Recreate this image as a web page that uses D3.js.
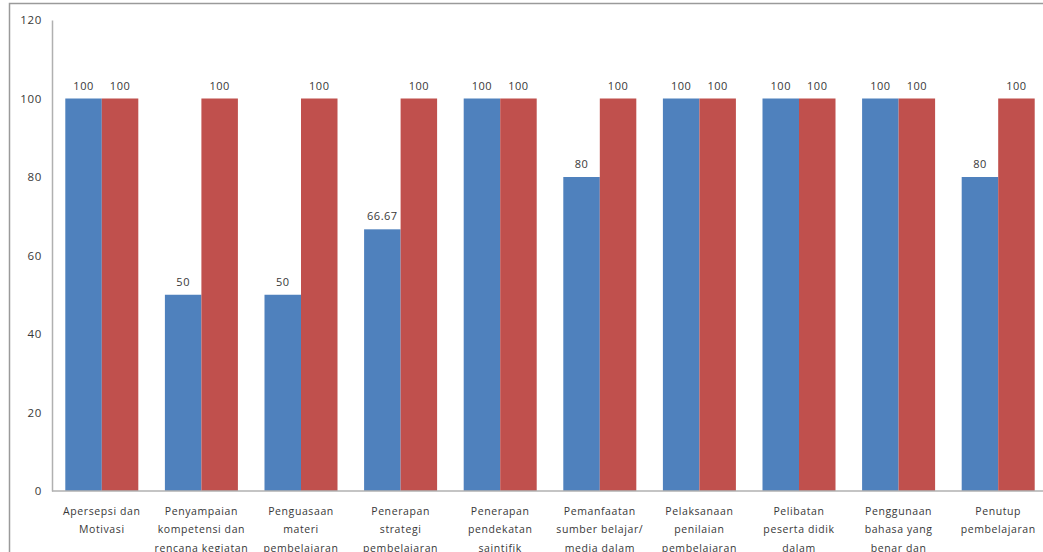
<!DOCTYPE html>
<html>
<head>
<meta charset="utf-8">
<script src="https://cdn.jsdelivr.net/npm/d3@7"></script>
<style>
  html, body { margin: 0; padding: 0; background: #fff; overflow: hidden; }
  svg { display: block; }
  text { font-family: "Open Sans", "Liberation Sans", sans-serif; fill: #383838; }
</style>
</head>
<body>
<svg id="chart" width="1043" height="552"></svg>
<script>
const categories = [
  ["Apersepsi dan", "Motivasi"],
  ["Penyampaian", "kompetensi dan", "rencana kegiatan"],
  ["Penguasaan", "materi", "pembelajaran"],
  ["Penerapan", "strategi", "pembelajaran"],
  ["Penerapan", "pendekatan", "saintifik"],
  ["Pemanfaatan", "sumber belajar/", "media dalam", "pembelajaran"],
  ["Pelaksanaan", "penilaian", "pembelajaran"],
  ["Pelibatan", "peserta didik", "dalam", "pembelajaran"],
  ["Penggunaan", "bahasa yang", "benar dan", "tepat"],
  ["Penutup", "pembelajaran"]
];
const seriesBlue = [100, 50, 50, 66.67, 100, 80, 100, 100, 100, 80];
const seriesRed  = [100, 100, 100, 100, 100, 100, 100, 100, 100, 100];
const yTicks = [0, 20, 40, 60, 80, 100, 120];
const colors = ["#4F81BD", "#C0504D"];

const svg = d3.select("#chart");

// outer frame
svg.append("path")
  .attr("d", "M9.5,552 L9.5,3.5 L1043,3.5")
  .attr("fill", "none")
  .attr("stroke", "#9a9a9a")
  .attr("stroke-width", 1.5);

const plotLeft = 52, plotRight = 1048, plotTop = 20, plotBottom = 491;

const x0 = d3.scaleBand()
  .domain(d3.range(categories.length))
  .range([plotLeft, plotRight])
  .paddingInner(0.267)
  .paddingOuter(0.1335);

const x1 = d3.scaleBand()
  .domain([0, 1])
  .range([0, x0.bandwidth()]);

const y = d3.scaleLinear().domain([0, 120]).range([plotBottom, plotTop]);

// y axis
const yAxis = svg.append("g")
  .attr("transform", `translate(${plotLeft},0)`)
  .call(d3.axisLeft(y).tickValues(yTicks).tickSize(0).tickPadding(10).tickFormat(d3.format("d")));
yAxis.select(".domain").attr("stroke", "#b0b0b0").attr("stroke-width", 1.5);
yAxis.selectAll("text")
  .style("font-family", "'Open Sans', sans-serif")
  .style("font-size", "11.5px")
  .style("letter-spacing", "0.7px")
  .attr("fill", "#383838");

const data = categories.map((c, i) => ({ i, vals: [seriesBlue[i], seriesRed[i]] }));

const groups = svg.append("g").selectAll("g")
  .data(data).enter().append("g")
  .attr("transform", d => `translate(${x0(d.i)},0)`);

groups.selectAll("rect")
  .data(d => d.vals.map((v, k) => ({ k, v })))
  .enter().append("rect")
  .attr("x", d => x1(d.k))
  .attr("width", x1.bandwidth())
  .attr("y", d => y(d.v))
  .attr("height", d => y(0) - y(d.v))
  .attr("fill", d => colors[d.k]);

groups.selectAll("text.val")
  .data(d => d.vals.map((v, k) => ({ k, v })))
  .enter().append("text")
  .attr("class", "val")
  .attr("x", d => x1(d.k) + x1.bandwidth() / 2)
  .attr("y", d => y(d.v) - 9)
  .attr("text-anchor", "middle")
  .style("font-size", "11px")
  .style("letter-spacing", "0.5px")
  .text(d => String(d.v));

// x axis line
svg.append("line")
  .attr("x1", plotLeft).attr("x2", 1043)
  .attr("y1", y(0)).attr("y2", y(0))
  .attr("stroke", "#b0b0b0").attr("stroke-width", 1.5);

// category labels
const catG = svg.append("g").selectAll("text")
  .data(categories).enter().append("text")
  .attr("text-anchor", "middle")
  .attr("transform", (d, i) => `translate(${x0(i) + x0.bandwidth() / 2},0)`)
  .style("font-size", "10.5px")
  .style("letter-spacing", "0.6px");
catG.selectAll("tspan")
  .data(d => d).enter().append("tspan")
  .attr("x", 0)
  .attr("y", (d, j) => 514.5 + j * 18.5)
  .text(d => d);
</script>
</body>
</html>
